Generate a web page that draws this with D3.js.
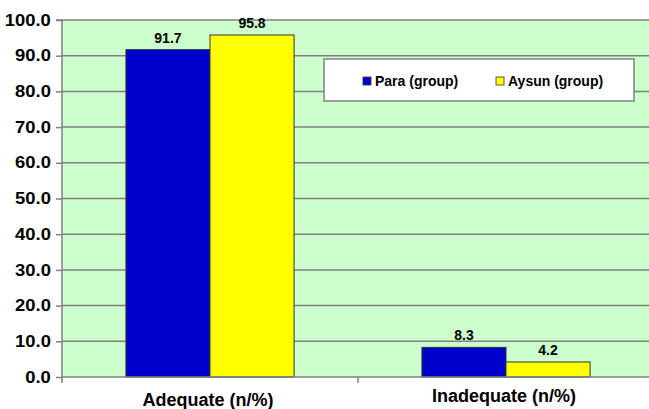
<!DOCTYPE html>
<html><head><meta charset="utf-8">
<script src="https://cdn.jsdelivr.net/npm/d3@7"></script>
<style>body{margin:0;background:#fff}svg{display:block}text{font-family:Arial,"Liberation Sans",sans-serif;font-weight:bold;fill:#000}</style>
</head><body><div id="chart"></div>
<script>
const categories = ["Adequate (n/%)", "Inadequate (n/%)"];
const seriesNames = ["Para (group)", "Aysun (group)"];
const paraValues = [91.7, 8.3];
const aysunValues = [95.8, 4.2];
const yTicks = [0, 10, 20, 30, 40, 50, 60, 70, 80, 90, 100];
const colors = ["#0000CC", "#FFFF00"];

const W = 649, H = 409;
const m = {left: 62, top: 20, bottom: 32};
const plotRight = 654;
const svg = d3.select("#chart").append("svg").attr("width", W).attr("height", H);

const x0 = d3.scaleBand().domain(categories).range([m.left, plotRight]);
const x1 = d3.scaleBand().domain(seriesNames).range([x0.bandwidth()*0.216, x0.bandwidth()*0.784]);
const y = d3.scaleLinear().domain([0, 100]).range([H - m.bottom, m.top]);

svg.append("rect").attr("x", m.left).attr("y", y(100)).attr("width", W - m.left).attr("height", y(0) - y(100)).attr("fill", "#CCFFCC");

// gridlines
svg.append("g").selectAll("line").data(yTicks.filter(d => d > 0)).join("line")
  .attr("x1", m.left).attr("x2", W).attr("y1", d => y(d)).attr("y2", d => y(d))
  .attr("stroke", "#808080").attr("stroke-width", 1.5);

// y axis
const ya = svg.append("g").attr("transform", `translate(${m.left},0)`)
  .call(d3.axisLeft(y).tickValues(yTicks).tickFormat(d3.format(".1f")).tickSize(6).tickPadding(4));
ya.selectAll("path,line").attr("stroke", "#808080").attr("stroke-width", 1.5);
ya.selectAll("text").style("font-size", "16px").attr("transform", "scale(1.15,1)").attr("dx", "-1");
ya.selectAll("text").each(function(){ const t=d3.select(this); t.attr("x", -10/1.15); });
ya.select(".domain").attr("d", `M-6,${y(100)}H0V${y(0)}`);

// data
const data = categories.map((c, i) => ({cat: c, vals: [paraValues[i], aysunValues[i]]}));
const g = svg.append("g").selectAll("g").data(data).join("g")
  .attr("transform", d => `translate(${x0(d.cat)},0)`);
g.selectAll("rect").data(d => d.vals.map((v, j) => ({v, s: seriesNames[j], j}))).join("rect")
  .attr("x", d => x1(d.s)).attr("width", x1.bandwidth())
  .attr("y", d => y(d.v)).attr("height", d => y(0) - y(d.v))
  .attr("fill", d => colors[d.j]).attr("stroke", "#333").attr("stroke-width", 1);
g.selectAll("text").data(d => d.vals.map((v, j) => ({v, s: seriesNames[j]}))).join("text")
  .attr("x", d => x1(d.s) + x1.bandwidth()/2).attr("y", d => y(d.v) - 7)
  .attr("text-anchor", "middle").style("font-size", "14px").text(d => d3.format(".1f")(d.v));

// x axis
const xa = svg.append("g").attr("transform", `translate(0,${y(0)})`)
  .call(d3.axisBottom(x0).tickSize(0).tickPadding(0));
xa.select(".domain").attr("d", `M${m.left},0H${W}`).attr("stroke", "#808080").attr("stroke-width", 1.5);
xa.selectAll(".tick text").remove();
svg.append("g").selectAll("line").data([m.left, x0(categories[1])]).join("line")
  .attr("x1", d => d).attr("x2", d => d).attr("y1", y(0)).attr("y2", y(0) + 6)
  .attr("stroke", "#808080").attr("stroke-width", 1.5);
svg.append("g").selectAll("text").data(categories).join("text")
  .attr("x", d => x0(d) + x0.bandwidth()/2 - 2)
  .attr("y", (d, i) => y(0) + (i === 0 ? 29 : 25))
  .attr("text-anchor", "middle").style("font-size", "18px").text(d => d);

// legend
const lg = svg.append("g").attr("transform", "translate(324,59)");
lg.append("rect").attr("width", 310).attr("height", 42).attr("fill", "#fff").attr("stroke", "#808080").attr("stroke-width", 1.5);
const items = lg.selectAll("g").data(seriesNames).join("g")
  .attr("transform", (d, i) => `translate(${i === 0 ? 39 : 172},18)`);
items.append("rect").attr("width", 8).attr("height", 8).attr("fill", (d, i) => colors[i]).attr("stroke", "#333").attr("stroke-width", 0.8);
items.append("text").attr("x", 12).attr("y", 9).style("font-size", "14px").text(d => d);
</script></body></html>
